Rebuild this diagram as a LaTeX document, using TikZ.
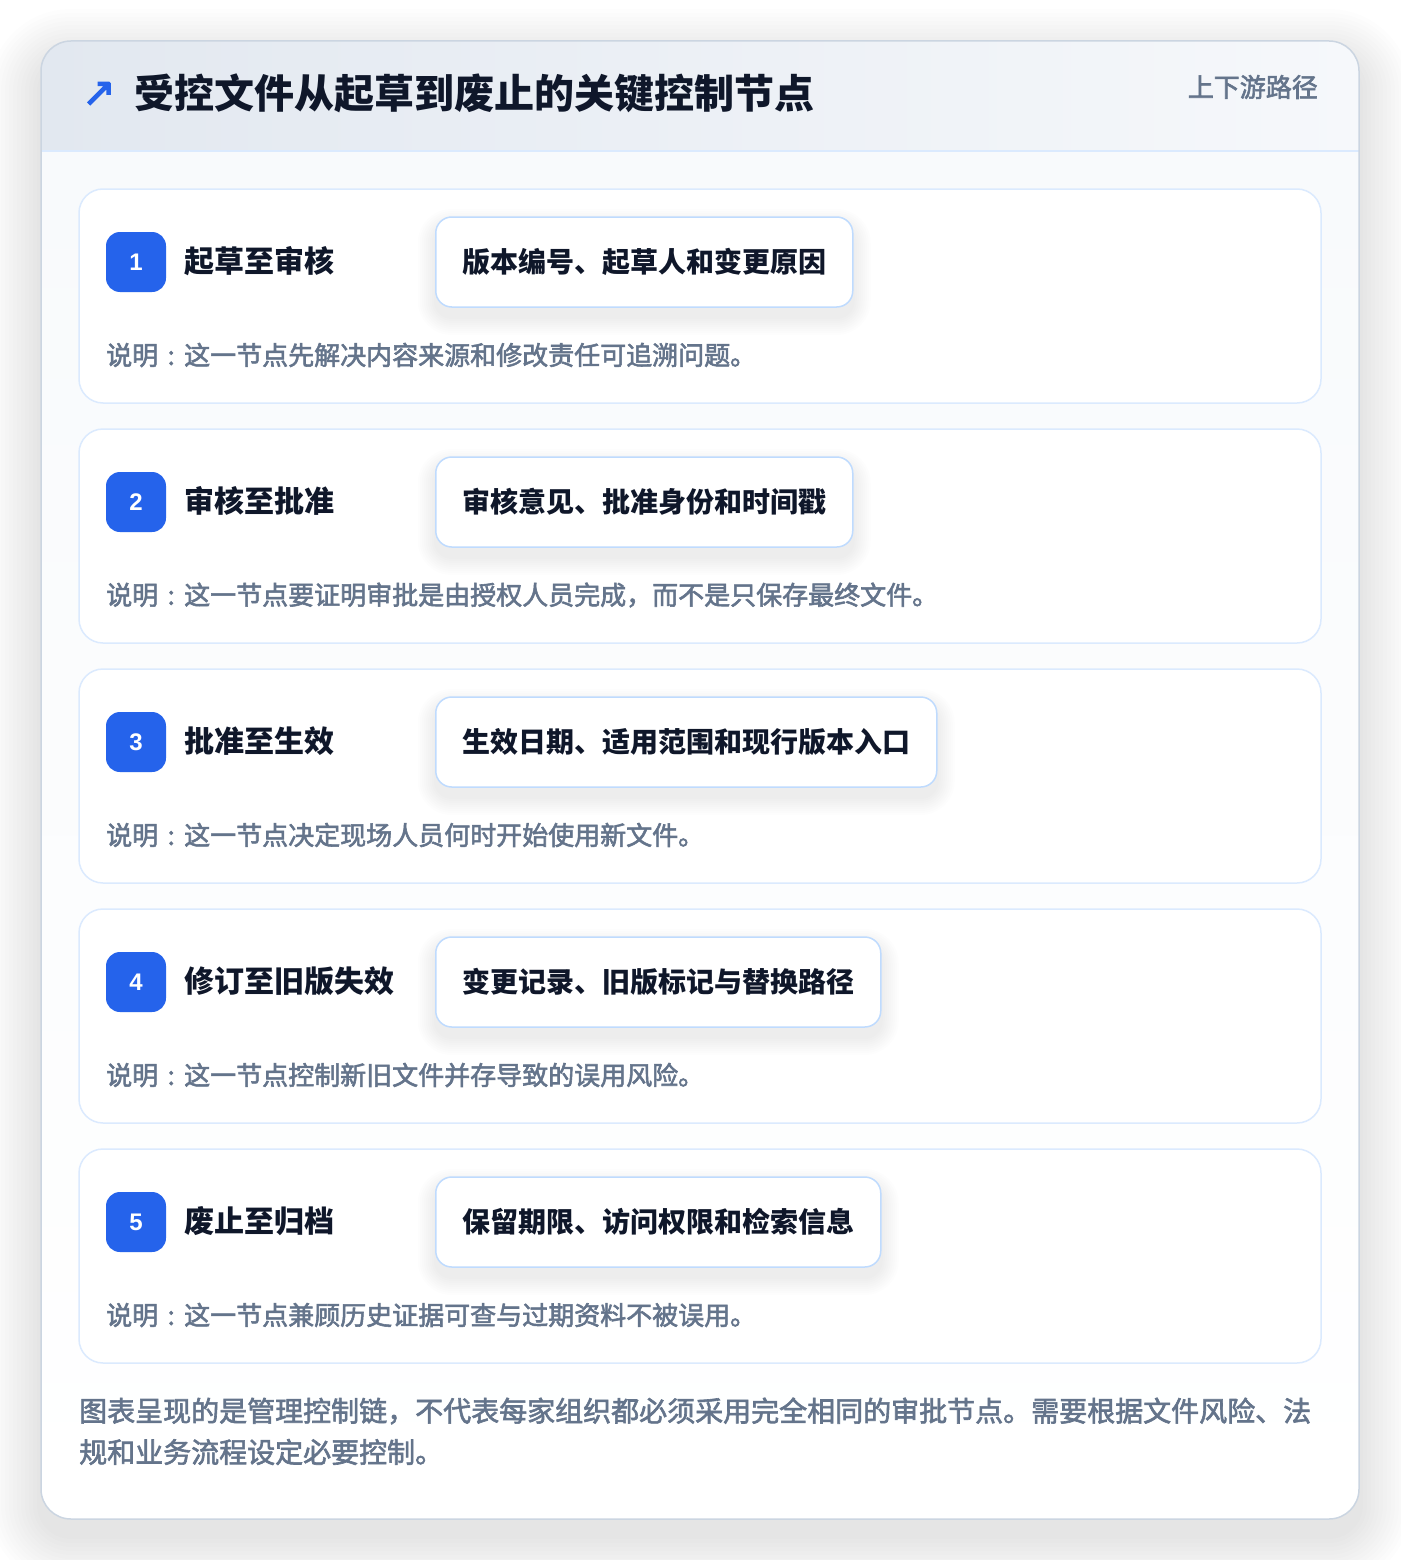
\documentclass[tikz,border=0pt]{standalone}
\usepackage{fontspec}
\setmainfont{Noto Sans CJK SC}
\newfontfamily\medfont{Noto Sans CJK SC}[FakeBold=2.2]
\newfontfamily\symfont{DejaVu Sans}[FakeBold=3]
\newfontfamily\numfont{Liberation Sans}
\definecolor{ink}{HTML}{0F172A}
\definecolor{muted}{HTML}{64748B}
\definecolor{blue}{HTML}{2563EB}
\definecolor{cardline}{HTML}{DBEAFE}
\definecolor{boxline}{HTML}{BFDBFE}
\definecolor{outline}{HTML}{CBD5E1}
\definecolor{hdrL}{HTML}{E2E8F0}
\definecolor{hdrR}{HTML}{F6F8FB}
\definecolor{bodyT}{HTML}{F8FAFC}
\newcommand{\colonbox}{\makebox[1em]{:}}
\tikzset{
  stepcard/.style={draw=cardline, line width=1.5pt, fill=white, rounded corners=24pt},
  badge/.style={fill=blue, rounded corners=14pt, minimum width=60pt, minimum height=60pt, inner sep=0pt, text=white, font=\numfont\bfseries\fontsize{24}{28}\selectfont},
  steptitle/.style={anchor=west, inner sep=0pt, text=ink, font=\bfseries\fontsize{30}{36}\selectfont},
  infobox/.style={anchor=west, draw=boxline, line width=1.5pt, fill=white, rounded corners=16pt, minimum height=90pt, inner xsep=26.5pt, inner ysep=0pt, text=ink, font=\bfseries\fontsize{28}{34}\selectfont},
  desc/.style={anchor=west, inner sep=0pt, text=muted, font=\medfont\fontsize{26}{32}\selectfont},
  foot/.style={anchor=west, inner sep=0pt, text=muted, font=\medfont\fontsize{28}{34}\selectfont},
}
\begin{document}
\begin{tikzpicture}[x=1pt,y=-1pt]
\useasboundingbox (0,0) rectangle (1400,1560);
\fill[white] (0,0) rectangle (1400,1560);
% main card shadow (soft, offset down)
\foreach \s in {4,8,...,52}{
  \fill[black, opacity=0.006, rounded corners=30pt+\s*1pt] (41-\s,41-\s+20) rectangle (1359+\s,1519+\s+16);
}
% main card
\fill[white, rounded corners=30pt] (41,41) rectangle (1359,1519);
\begin{scope}
  \clip[rounded corners=30pt] (41,41) rectangle (1359,1519);
  \shade[top color=bodyT, bottom color=white] (41,151) rectangle (1359,1519);
  \shade[left color=hdrL, right color=hdrR] (41,41) rectangle (1359,151);
\end{scope}
\draw[cardline, line width=1.5pt] (41,151) -- (1359,151);
\draw[outline, line width=1.5pt, rounded corners=30pt] (41,41) rectangle (1359,1519);
% header
\node[anchor=center, inner sep=0pt, text=blue, font=\symfont\fontsize{40}{46}\selectfont] (arrow) at (99,94) {↗};
\node[anchor=west, inner sep=0pt, text=ink, font=\bfseries\fontsize{40}{48}\selectfont] (title) at (134,93) {受控文件从起草到废止的关键控制节点};
\node[anchor=east, inner sep=0pt, text=muted, font=\medfont\fontsize{26}{32}\selectfont] (tag) at (1318,87) {上下游路径};
% steps
\foreach \i/\t/\b/\d in {
  1/起草至审核/版本编号、起草人和变更原因/这一节点先解决内容来源和修改责任可追溯问题。,
  2/审核至批准/审核意见、批准身份和时间戳/这一节点要证明审批是由授权人员完成，而不是只保存最终文件。,
  3/批准至生效/生效日期、适用范围和现行版本入口/这一节点决定现场人员何时开始使用新文件。,
  4/修订至旧版失效/变更记录、旧版标记与替换路径/这一节点控制新旧文件并存导致的误用风险。,
  5/废止至归档/保留期限、访问权限和检索信息/这一节点兼顾历史证据可查与过期资料不被误用。}{
  \pgfmathsetmacro{\top}{189+240*(\i-1)}
  \draw[stepcard] (79,\top) rectangle (1321,\top+214);
  \node[badge] (badge\i) at (136,\top+73) {\i};
  \node[steptitle] (title\i) at (184,\top+72) {\t};
  \foreach \s in {2,4,...,18}{
    \node[infobox, draw=none, fill=black, opacity=0.007, rounded corners=16pt+\s*1pt, inner xsep=26.5pt+\s*1pt, minimum height=90pt+2*\s*1pt] at (435-\s,\top+83) {\phantom{\b}};
  }
  \node[infobox] (info\i) at (435,\top+73) {\b};
  \node[desc] (desc\i) at (106,\top+166) {说明\colonbox\d};
}
% footer
\node[foot] (foot1) at (79,1411) {图表呈现的是管理控制链，不代表每家组织都必须采用完全相同的审批节点。需要根据文件风险、法};
\node[foot] (foot2) at (79,1452) {规和业务流程设定必要控制。};
\end{tikzpicture}
\end{document}
